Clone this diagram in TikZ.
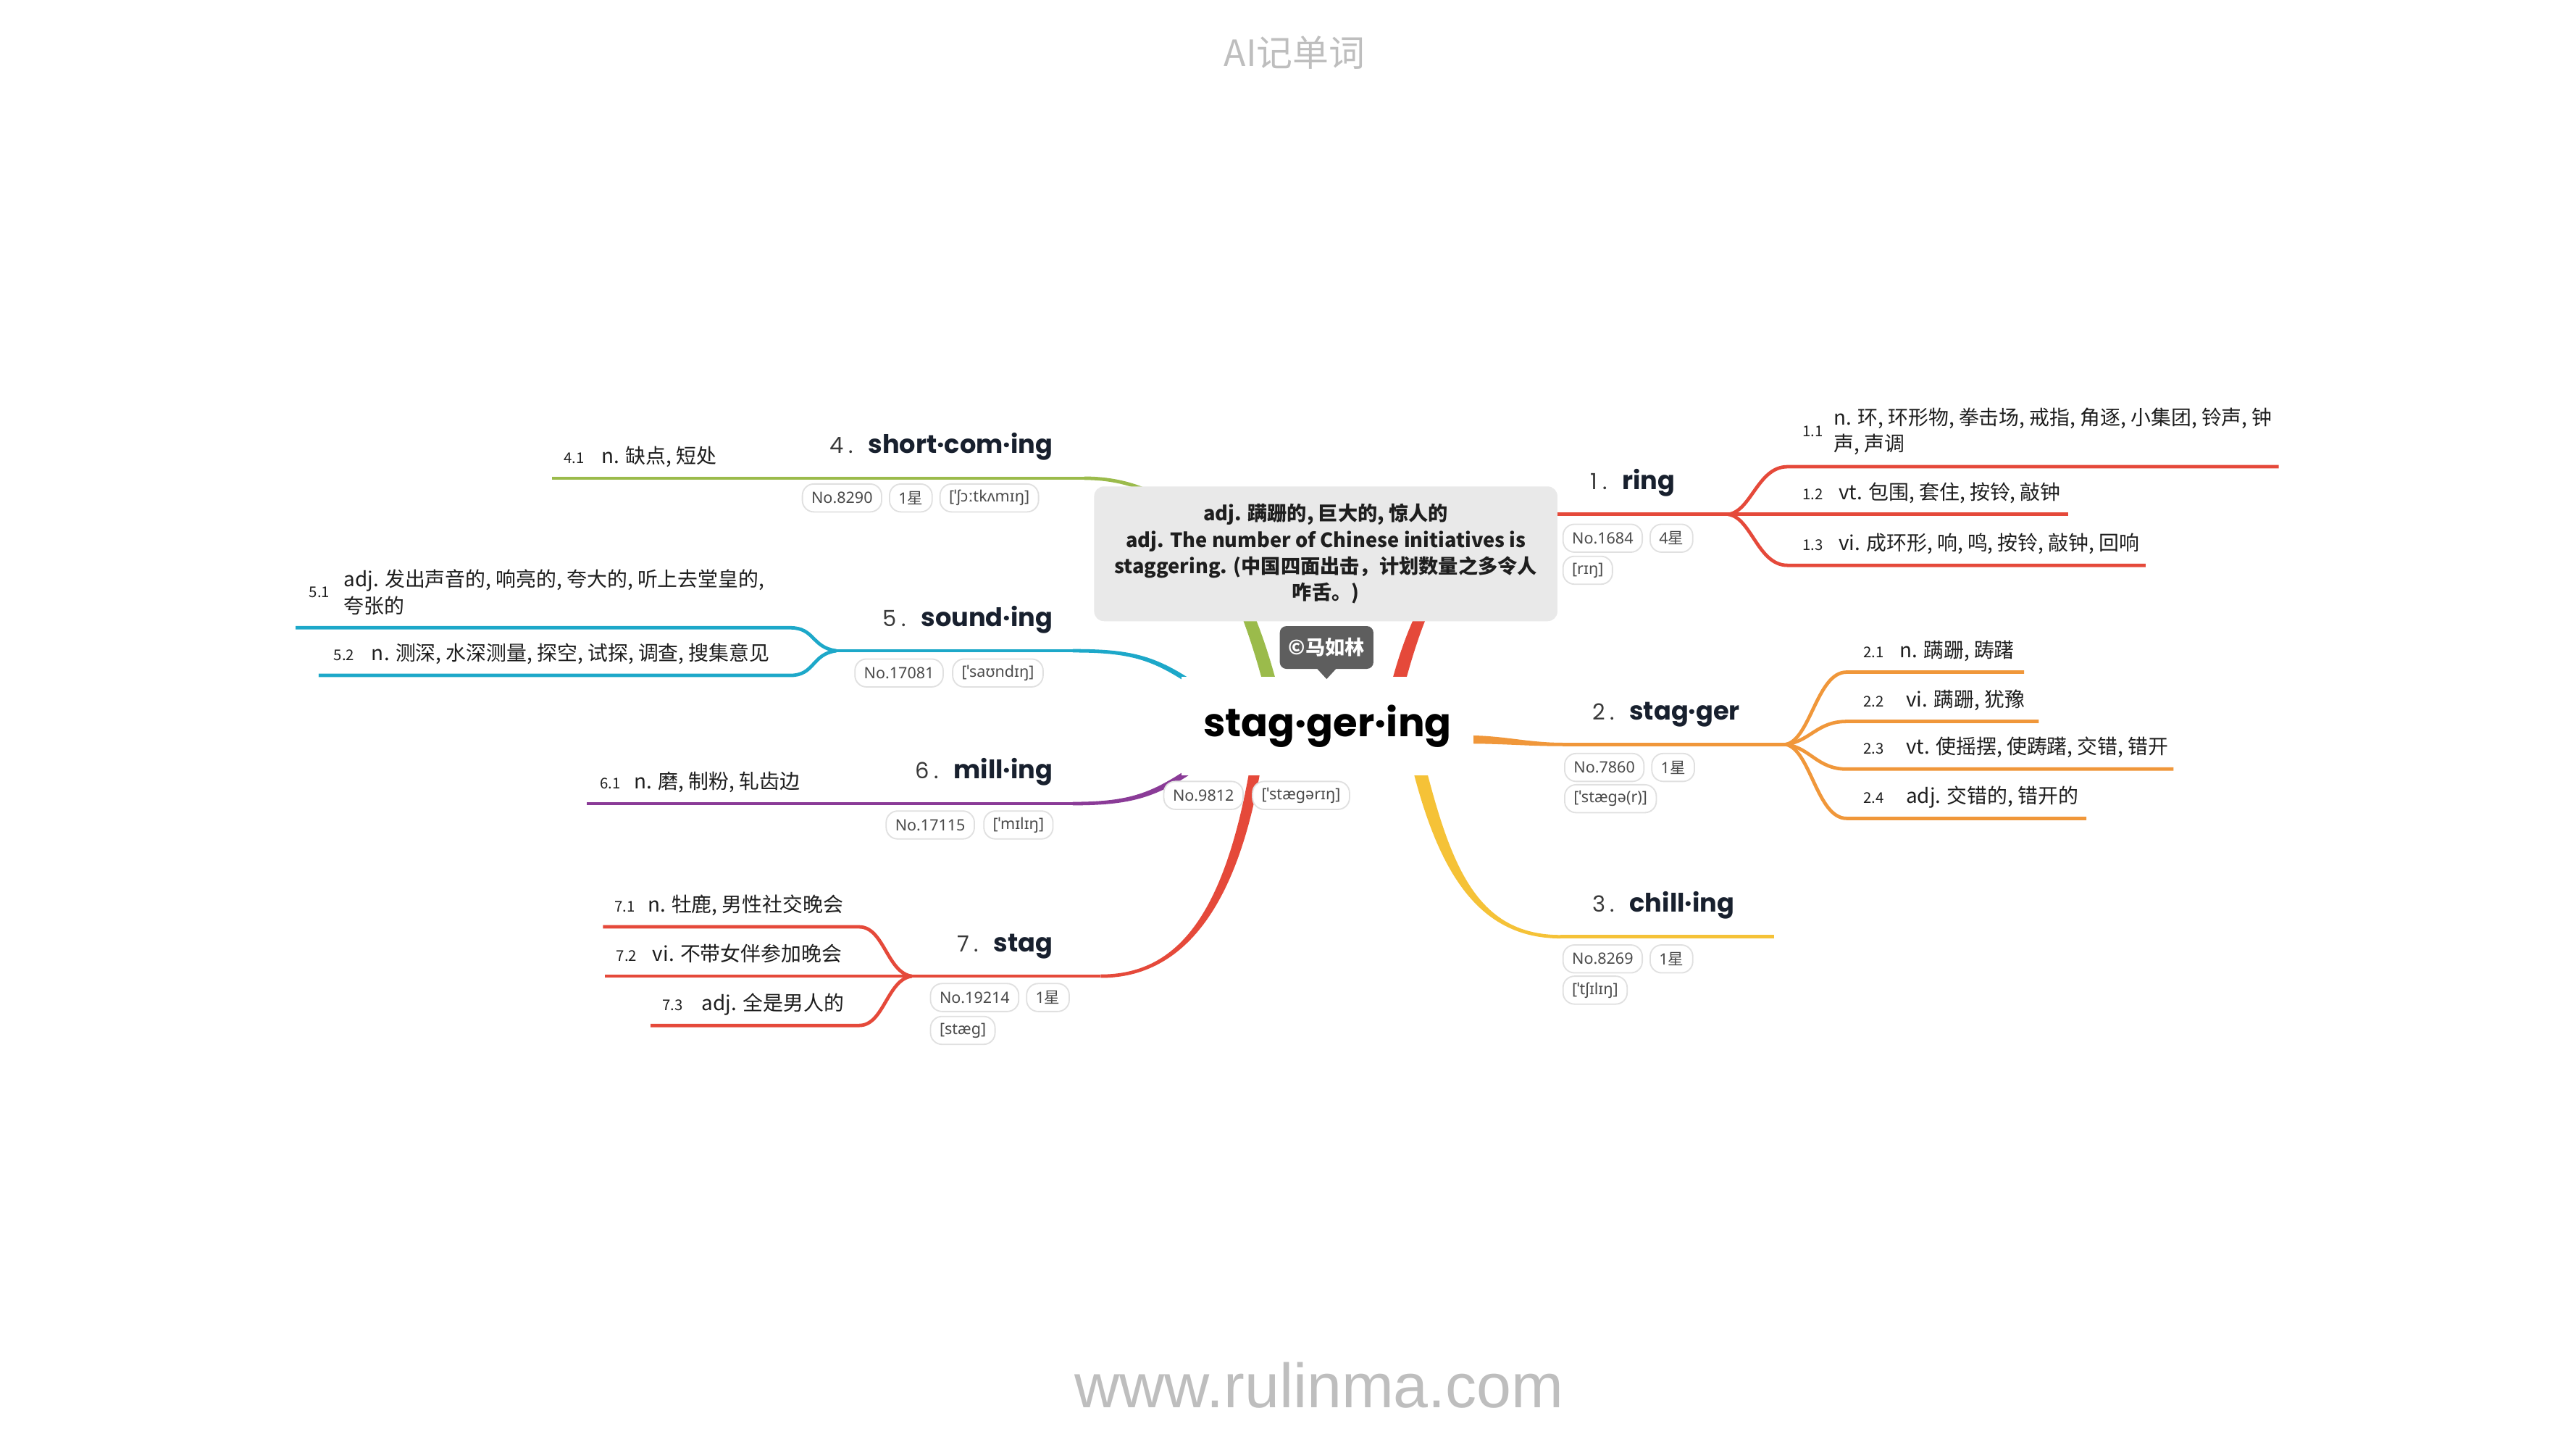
\documentclass[tikz,border=0pt]{standalone}
\usepackage{fontspec}
\setmainfont{Noto Sans CJK SC}
\newfontfamily\cjk{Noto Sans CJK SC}
\newfontfamily\headf{Poppins}
\newfontfamily\tagf{Noto Sans}
\newfontfamily\wmf{Liberation Sans}
\usetikzlibrary{calc,positioning}

\definecolor{cRed}{HTML}{E5493A}
\definecolor{cOrange}{HTML}{F0973A}
\definecolor{cYellow}{HTML}{F5C237}
\definecolor{cGreen}{HTML}{9BBB4B}
\definecolor{cCyan}{HTML}{1DA8C9}
\definecolor{cPurple}{HTML}{8A3B97}
\definecolor{boxGray}{HTML}{E9E9E9}
\definecolor{calloutGray}{HTML}{5E5E5E}
\definecolor{wmGray}{HTML}{BEBEBE}
\definecolor{headCol}{HTML}{18202E}
\definecolor{numCol}{HTML}{3A3A3A}
\definecolor{txtCol}{HTML}{1E1E1E}
\definecolor{tagTxt}{HTML}{4A4A4A}
\definecolor{tagBorder}{HTML}{E0E0E0}

\newcommand\taper[7]{%
 \path ($(#2)!#6!90:(#3)$) coordinate (tLa) ($(#2)!#6!-90:(#3)$) coordinate (tRa)
       ($(#5)!#7!-90:(#4)$) coordinate (tLb) ($(#5)!#7!90:(#4)$) coordinate (tRb);
 \fill[#1] (tLa) .. controls ($(#3)+(tLa)-(#2)$) and ($(#4)+(tLb)-(#5)$) .. (tLb)
   -- (tRb) .. controls ($(#4)+(tRb)-(#5)$) and ($(#3)+(tRa)-(#2)$) .. (tRa) -- cycle;}
\newcommand\hd[2]{{\color{numCol}\headf\fontsize{13.5}{16}\selectfont #1\hspace{3pt}.}\hspace{9pt}{\headf\bfseries\fontsize{15.5}{18}\selectfont #2}}
\newcommand\xing{{\cjk 星}\hspace{9pt}}

\tikzset{
  pill/.style={draw=tagBorder, line width=0.8pt, fill=white, rounded corners=7pt,
    minimum height=17pt, inner xsep=5.5pt, inner ysep=0pt,
    font=\tagf\fontsize{9.5}{11}\selectfont, text=tagTxt, anchor=west},
  headR/.style={anchor=base west, inner sep=0pt, text=headCol},
  headL/.style={anchor=base east, inner sep=0pt, text=headCol},
  deflabel/.style={anchor=base west, inner sep=0pt, font=\cjk\fontsize{9}{10}\selectfont, text=txtCol},
  deftext/.style={anchor=base west, inner sep=0pt, font=\cjk\fontsize{12.3}{16}\selectfont, text=txtCol, align=left},
  sub/.style={line width=2.1pt, line join=round},
  centernode/.style={fill=white, minimum width=178pt, minimum height=60pt, inner sep=0pt,
    font=\headf\bfseries\fontsize{24}{28}\selectfont, text=black},
  defbox/.style={fill=boxGray, rounded corners=6pt, minimum width=282pt, minimum height=82pt,
    align=center, font=\cjk\bfseries\fontsize{12}{16}\selectfont, text=txtCol},
  callout/.style={fill=calloutGray, rounded corners=4pt, minimum width=57pt, minimum height=26pt,
    inner sep=0pt, text=white, font=\cjk\bfseries\fontsize{12}{14}\selectfont},
}

\begin{document}
\begin{tikzpicture}[x=1pt,y=-1pt]
\useasboundingbox (0,0) rectangle (1568,882);
\fill[white] (0,0) rectangle (1568,882);

% branch end coordinates
\coordinate (b1s) at (851,416); \coordinate (b1e) at (948,313);
\coordinate (b2s) at (893,450); \coordinate (b2e) at (951,453);
\coordinate (b3s) at (864,468); \coordinate (b3e) at (950,570);
\coordinate (b4s) at (773,416); \coordinate (b4e) at (660,291);
\coordinate (b5s) at (726,416); \coordinate (b5e) at (653,396);
\coordinate (b6s) at (726,468); \coordinate (b6e) at (653,489);
\coordinate (b7s) at (764,468); \coordinate (b7e) at (670,594);
\coordinate (j1) at (1052,313); \coordinate (j2) at (1087,453);
\coordinate (j5) at (509,396); \coordinate (j7) at (555,594);

% tapered main branches
\taper{cRed}{b1s}{866,360}{890,313}{b1e}{4pt}{1.05pt}
\taper{cOrange}{b2s}{915,450}{930,453}{b2e}{2.5pt}{1.05pt}
\taper{cYellow}{b3s}{880,530}{900,570}{b3e}{4pt}{1.05pt}
\taper{cGreen}{b4s}{750,330}{715,291}{b4e}{4pt}{1.05pt}
\taper{cCyan}{b5s}{702,400}{688,396}{b5e}{1.5pt}{1.05pt}
\taper{cPurple}{b6s}{702,484}{688,489}{b6e}{1.8pt}{1.05pt}
\taper{cRed}{b7s}{748,560}{715,594}{b7e}{3.3pt}{1.05pt}

% sub lines
\coordinate (e11) at (1387,284); \coordinate (e12) at (1259,313); \coordinate (e13) at (1306,344);
\draw[sub,cRed] (b1e) -- (j1);
\draw[sub,cRed] (j1) .. controls (1066,311) and (1070,284) .. (1088,284) -- (e11);
\draw[sub,cRed] (j1) -- (e12);
\draw[sub,cRed] (j1) .. controls (1066,315) and (1070,344) .. (1088,344) -- (e13);

\coordinate (e21) at (1232,409); \coordinate (e22) at (1241,439);
\coordinate (e23) at (1323,468); \coordinate (e24) at (1270,498);
\draw[sub,cOrange] (b2e) -- (j2);
\draw[sub,cOrange] (j2) .. controls (1102,450) and (1106,409) .. (1124,409) -- (e21);
\draw[sub,cOrange] (j2) .. controls (1102,451) and (1106,439) .. (1124,439) -- (e22);
\draw[sub,cOrange] (j2) .. controls (1102,455) and (1106,468) .. (1124,468) -- (e23);
\draw[sub,cOrange] (j2) .. controls (1102,456) and (1106,498) .. (1124,498) -- (e24);

\coordinate (e3) at (1080,570);
\draw[sub,cYellow] (b3e) -- (e3);

\coordinate (e41) at (336,291);
\draw[sub,cGreen] (b4e) -- (e41);

\coordinate (e51) at (180,382); \coordinate (e52) at (194,411);
\draw[sub,cCyan] (b5e) -- (j5);
\draw[sub,cCyan] (j5) .. controls (494,394) and (496,382) .. (481,382) -- (e51);
\draw[sub,cCyan] (j5) .. controls (494,398) and (496,411) .. (481,411) -- (e52);

\coordinate (e61) at (357,489);
\draw[sub,cPurple] (b6e) -- (e61);

\coordinate (e71) at (367,564); \coordinate (e72) at (368,594); \coordinate (e73) at (396,624);
\draw[sub,cRed] (b7e) -- (j7);
\draw[sub,cRed] (j7) .. controls (540,592) and (538,564) .. (523,564) -- (e71);
\draw[sub,cRed] (j7) -- (e72);
\draw[sub,cRed] (j7) .. controls (540,596) and (538,624) .. (523,624) -- (e73);

% central topic
\node[centernode] (center) at (808,442) {stag·ger·ing};

% definition box and callout
\node[defbox] (def) at (807,337) {adj. 蹒跚的, 巨大的, 惊人的\\adj. The number of Chinese initiatives is\\staggering. (中国四面出击，计划数量之多令人\\咋舌。)};
\node[callout] (cr) at (807.5,394) {©马如林};
\fill[calloutGray] ($(cr.south)+(-6,-0.5)$) -- ($(cr.south)+(6,-0.5)$) -- ($(cr.south)+(0,6)$) -- cycle;

% central tags
\node[pill] (pc1) at (708,484) {No.9812};
\node[pill, right=5pt of pc1] (pc2) {[ˈstægərɪŋ]};

% headings
\node[headR] (h1) at (968,298) {\hd{1}{ring}};
\node[headR] (h2) at (969,438) {\hd{2}{stag·ger}};
\node[headR] (h3) at (969,555) {\hd{3}{chill·ing}};
\node[headL] (h4) at (641,276) {\hd{4}{short·com·ing}};
\node[headL] (h5) at (641,381) {\hd{5}{sound·ing}};
\node[headL] (h6) at (641,474) {\hd{6}{mill·ing}};
\node[headL] (h7) at (641,579) {\hd{7}{stag}};

% tags
\node[pill] (p1a) at (951,327.5) {No.1684};
\node[pill, right=4pt of p1a] (p1b) {4\xing};
\node[pill] (p1c) at (951,347) {[rɪŋ]};
\node[pill] (p2a) at (952,467) {No.7860};
\node[pill, right=4pt of p2a] (p2b) {1\xing};
\node[pill] (p2c) at (952,486) {[ˈstægə(r)]};
\node[pill] (p3a) at (951,583.5) {No.8269};
\node[pill, right=4pt of p3a] (p3b) {1\xing};
\node[pill] (p3c) at (951,602.5) {[ˈtʃɪlɪŋ]};
\node[pill] (p4a) at (488,303) {No.8290};
\node[pill, right=4pt of p4a] (p4b) {1\xing};
\node[pill, right=4pt of p4b] (p4c) {[ˈʃɔːtkʌmɪŋ]};
\node[pill] (p5a) at (520,409.5) {No.17081};
\node[pill, right=5pt of p5a] (p5b) {[ˈsaʊndɪŋ]};
\node[pill] (p6a) at (539,502) {No.17115};
\node[pill, right=5pt of p6a] (p6b) {[ˈmɪlɪŋ]};
\node[pill] (p7a) at (566,607) {No.19214};
\node[pill, right=4pt of p7a] (p7b) {1\xing};
\node[pill] (p7c) at (566,627) {[stæg]};

% definitions
\node[deflabel] (l11) at (1097,265.5) {1.1};
\node[deftext, anchor=west] (t11) at (1116,262.5) {n. 环, 环形物, 拳击场, 戒指, 角逐, 小集团, 铃声, 钟\\声, 声调};
\node[deflabel] (l12) at (1097,304) {1.2};
\node[deftext] (t12) at (1119,304) {vt. 包围, 套住, 按铃, 敲钟};
\node[deflabel] (l13) at (1097,335) {1.3};
\node[deftext] (t13) at (1119,335) {vi. 成环形, 响, 鸣, 按铃, 敲钟, 回响};

\node[deflabel] (l21) at (1134,400) {2.1};
\node[deftext] (t21) at (1156,400) {n. 蹒跚, 踌躇};
\node[deflabel] (l22) at (1134,430) {2.2};
\node[deftext] (t22) at (1160,430) {vi. 蹒跚, 犹豫};
\node[deflabel] (l23) at (1134,459) {2.3};
\node[deftext] (t23) at (1160,459) {vt. 使摇摆, 使踌躇, 交错, 错开};
\node[deflabel] (l24) at (1134,489) {2.4};
\node[deftext] (t24) at (1160,489) {adj. 交错的, 错开的};

\node[deflabel] (l41) at (343,282) {4.1};
\node[deftext] (t41) at (366,282) {n. 缺点, 短处};

\node[deflabel] (l51) at (188,363.5) {5.1};
\node[deftext, anchor=west] (t51) at (209,360.4) {adj. 发出声音的, 响亮的, 夸大的, 听上去堂皇的,\\夸张的};
\node[deflabel] (l52) at (203,402) {5.2};
\node[deftext] (t52) at (226,402) {n. 测深, 水深测量, 探空, 试探, 调查, 搜集意见};

\node[deflabel] (l61) at (365,480) {6.1};
\node[deftext] (t61) at (386,480) {n. 磨, 制粉, 轧齿边};

\node[deflabel] (l71) at (374,555) {7.1};
\node[deftext] (t71) at (394,555) {n. 牡鹿, 男性社交晚会};
\node[deflabel] (l72) at (375,585) {7.2};
\node[deftext] (t72) at (397,585) {vi. 不带女伴参加晚会};
\node[deflabel] (l73) at (403,615) {7.3};
\node[deftext] (t73) at (427,615) {adj. 全是男人的};

% title and watermark
\node[font=\cjk\fontsize{22}{26}\selectfont, text=wmGray] (title) at (788,32) {AI记单词};
\node[font=\wmf\fontsize{38}{40}\selectfont, text=wmGray] (wm) at (803,843) {www.rulinma.com};
\end{tikzpicture}
\end{document}
